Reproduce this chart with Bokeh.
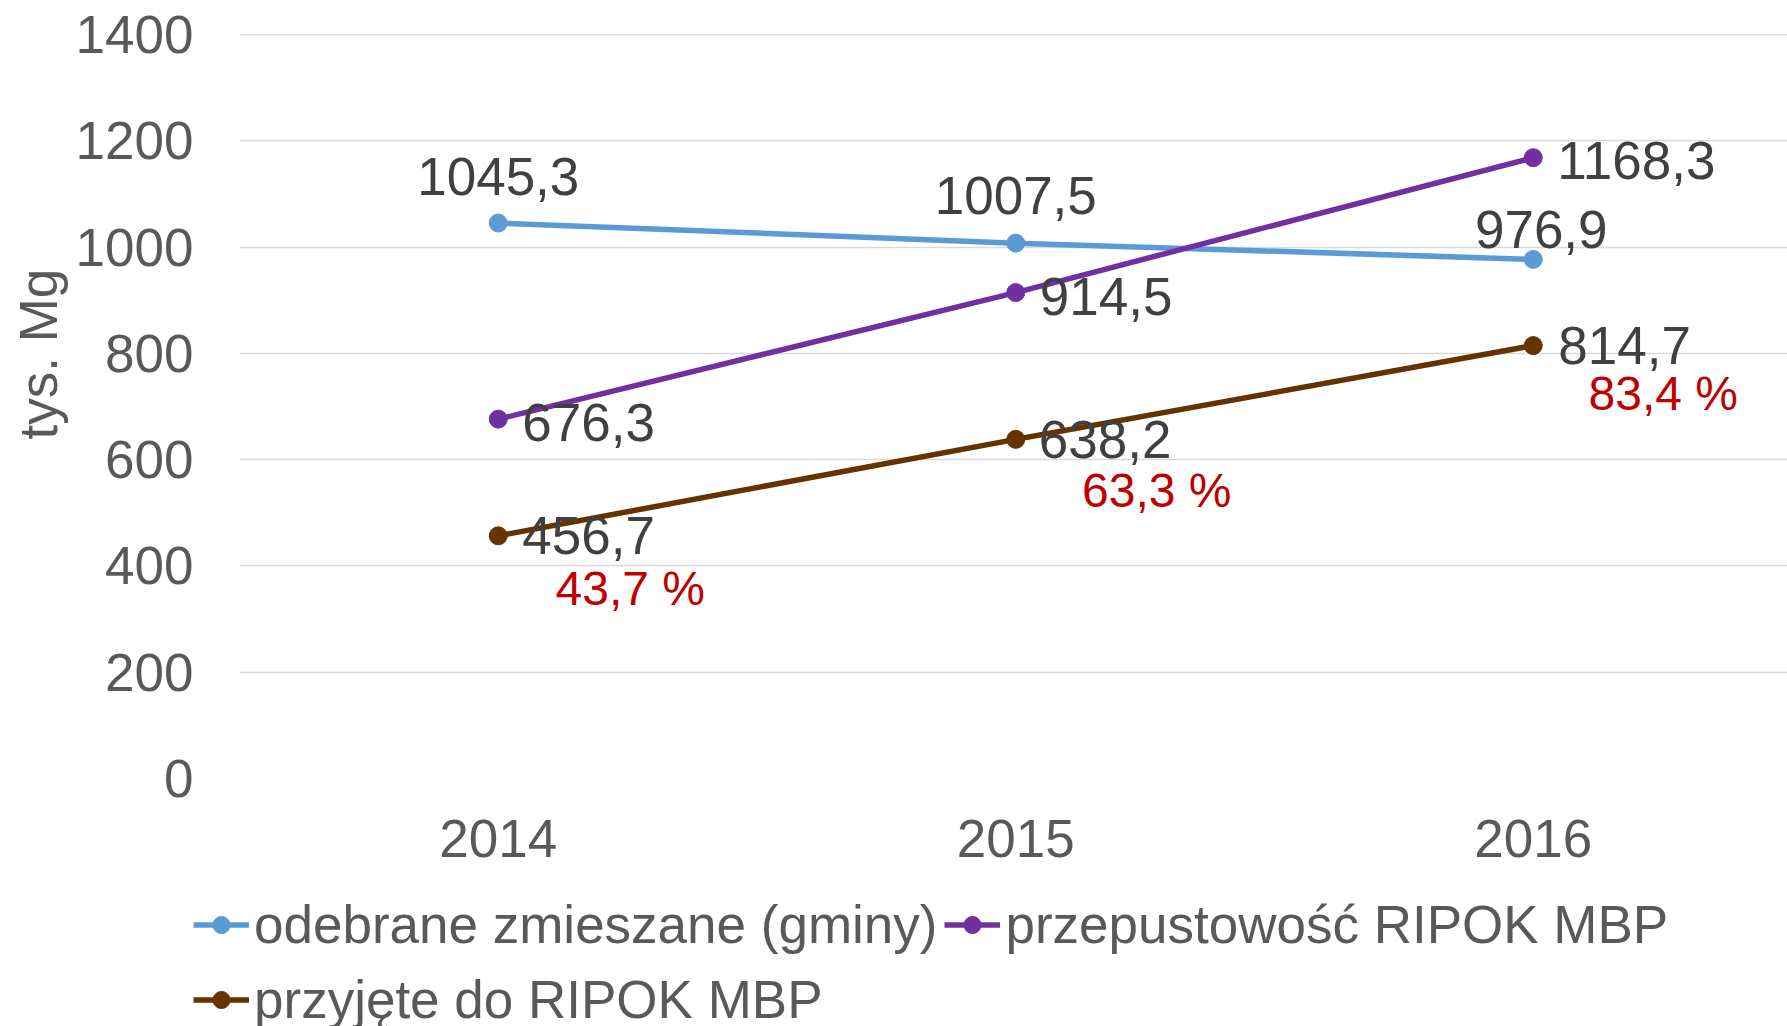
from bokeh.plotting import figure
from bokeh.layouts import column
from bokeh.models import Range1d, FixedTicker, Legend, LegendItem, Title, ColumnDataSource
from bokeh.core.properties import value
from bokeh.embed import file_html
from bokeh.resources import INLINE

# ---- data ----
years = ["2014", "2015", "2016"]
odebrane = [1045.3, 1007.5, 976.9]          # odebrane zmieszane (gminy)
przepustowosc = [676.3, 914.5, 1168.3]      # przepustowość RIPOK MBP
przyjete = [456.7, 638.2, 814.7]            # przyjęte do RIPOK MBP
procent = [43.7, 63.3, 83.4]                # % przyjęte / odebrane
y_ticks = [0, 200, 400, 600, 800, 1000, 1200, 1400]
series_names = ["odebrane zmieszane (gminy)", "przepustowość RIPOK MBP", "przyjęte do RIPOK MBP"]
y_title = "tys. Mg"

FONT = value("Liberation Sans")
BLUE, PURPLE, BROWN, RED = "#5B9BD5", "#7030A0", "#663300", "#C00000"
COLORS = [BLUE, PURPLE, BROWN]
SERIES = [odebrane, przepustowosc, przyjete]
LBL = "#404040"
AX = "#595959"
LW, MS = 5.5, 18


def fmt(v):
    return f"{v:.1f}".replace(".", ",")


xs = list(range(len(years)))

p = figure(width=1787, height=880,
           x_range=Range1d(-0.5, 2.4913), y_range=Range1d(0, 1402),
           output_backend="svg", toolbar_location=None,
           min_border_left=239, min_border_top=33, min_border_bottom=102, min_border_right=0)
p.outline_line_color = None
p.background_fill_color = "white"
p.border_fill_color = "white"

p.xgrid.visible = False
p.ygrid.ticker = FixedTicker(ticks=y_ticks)
p.ygrid.grid_line_color = "#D9D9D9"
p.ygrid.grid_line_width = 1.5

p.yaxis.ticker = FixedTicker(ticks=y_ticks)
p.xaxis.ticker = FixedTicker(ticks=xs)
p.xaxis.major_label_overrides = {i: y for i, y in enumerate(years)}
for ax in (p.xaxis, p.yaxis):
    ax.axis_line_color = None
    ax.major_tick_line_color = None
    ax.minor_tick_line_color = None
    ax.major_label_text_font = "Liberation Sans"
    ax.major_label_text_font_size = "53px"
    ax.major_label_text_color = AX
p.yaxis.major_label_standoff = 40
p.xaxis.major_label_standoff = 35

for vals, col in zip(SERIES, COLORS):
    p.line(xs, vals, line_color=col, line_width=LW)
    p.scatter(xs, vals, size=MS, marker="circle", fill_color=col, line_color=col)

# data labels
src_b = ColumnDataSource(dict(x=xs, y=odebrane, t=[fmt(v) for v in odebrane],
                              xo=[0, 0, 8], yo=[-47, -48, -30]))
p.text(x="x", y="y", text="t", x_offset="xo", y_offset="yo", source=src_b,
       text_font=FONT, text_font_size="53px", text_color=LBL,
       text_align="center", text_baseline="middle")

src_p = ColumnDataSource(dict(x=xs, y=przepustowosc, t=[fmt(v) for v in przepustowosc],
                              xo=[24, 24, 24], yo=[3, 4, 3]))
p.text(x="x", y="y", text="t", x_offset="xo", y_offset="yo", source=src_p,
       text_font=FONT, text_font_size="53px", text_color=LBL,
       text_align="left", text_baseline="middle")

src_r = ColumnDataSource(dict(x=xs, y=przyjete, t=[fmt(v) for v in przyjete],
                              xo=[24, 23, 25], yo=[0, 0, 0]))
p.text(x="x", y="y", text="t", x_offset="xo", y_offset="yo", source=src_r,
       text_font=FONT, text_font_size="53px", text_color=LBL,
       text_align="left", text_baseline="middle")

src_pc = ColumnDataSource(dict(x=xs, y=przyjete, t=[fmt(v) + " %" for v in procent],
                               xo=[132, 141, 130], yo=[53, 51, 48]))
p.text(x="x", y="y", text="t", x_offset="xo", y_offset="yo", source=src_pc,
       text_font=FONT, text_font_size="48px", text_color=RED,
       text_align="center", text_baseline="middle")

# y-axis title as a left-side title, anchored from the bottom of the frame
p.add_layout(Title(text=y_title, align="left", offset=339, standoff=10,
                   text_font="Liberation Sans", text_font_size="53px",
                   text_font_style="normal", text_color=AX), "left")

# ---- legend strip below the chart (series drawn outside its view, legend only) ----
lg = figure(width=1787, height=146, x_range=Range1d(0, 1), y_range=Range1d(-1, 0),
            x_axis_type=None, y_axis_type=None, min_border=0,
            output_backend="svg", toolbar_location=None)
lg.frame_align = False
lg.outline_line_color = None
lg.xgrid.visible = False
lg.ygrid.visible = False
leg_r = []
for vals, col in zip(SERIES, COLORS):
    l = lg.line(xs, vals, line_color=col, line_width=LW)
    s = lg.scatter(xs, vals, size=MS, marker="circle", fill_color=col, line_color=col)
    leg_r.append([l, s])

common = dict(orientation="horizontal", label_text_font="Liberation Sans",
              label_text_font_size="53px", label_text_color=AX,
              glyph_width=56, glyph_height=43, label_standoff=5, spacing=7,
              padding=0, margin=0, border_line_color=None, background_fill_alpha=0)
leg1 = Legend(items=[LegendItem(label=series_names[0], renderers=leg_r[0]),
                     LegendItem(label=series_names[1], renderers=leg_r[1])],
              location=(193, 71), **common)
leg2 = Legend(items=[LegendItem(label=series_names[2], renderers=leg_r[2])],
              location=(193, -4), **common)
lg.add_layout(leg1)
lg.add_layout(leg2)

layout = column(p, lg, spacing=0)
open("out.html", "w").write(file_html(layout, INLINE))
